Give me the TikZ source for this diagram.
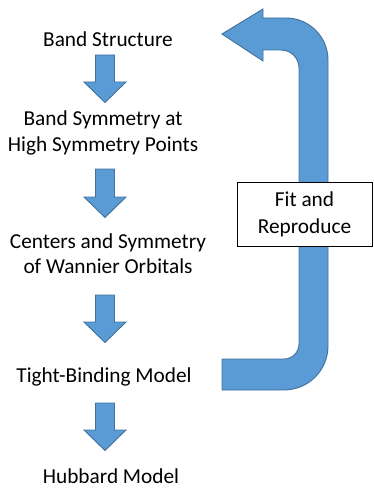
\documentclass[tikz,border=0pt]{standalone}
\usepackage{fontspec}
\setmainfont{Carlito}
\definecolor{blockfill}{HTML}{5B9BD5}
\definecolor{blockline}{HTML}{41719C}
\newcommand{\downblock}[3]{% x, top, shoulder ; tip = shoulder+20.5
  \filldraw[blockarrow] (#1-9.5,#2) -- (#1+9.5,#2) -- (#1+9.5,#3) -- (#1+21,#3)
    -- (#1,#3+20.5) -- (#1-21,#3) -- (#1-9.5,#3) -- cycle;}
\begin{document}
\begin{tikzpicture}[x=1pt,y=-1pt,
  blockarrow/.style={fill=blockfill,draw=blockline,line width=0.9pt,line join=miter},
  label/.style={font=\fontsize{21.3}{25}\selectfont,align=center,inner sep=0pt,anchor=base},
  fitbox/.style={draw=black,line width=1pt,fill=white,minimum width=135,minimum height=64,
    font=\fontsize{21.3}{27}\selectfont,align=center,inner sep=0pt}]
\useasboundingbox (0,0) rectangle (373,489);
% big return arrow
\filldraw[blockarrow] (222,34) -- (263,9) -- (263,18) -- (286,18)
  arc[start angle=-90,end angle=0,radius=42] -- (328,346)
  arc[start angle=0,end angle=90,radius=44] -- (222,390) -- (222,359) -- (284,359)
  arc[start angle=90,end angle=0,radius=15] -- (299,68)
  arc[start angle=0,end angle=-90,radius=18] -- (263,50) -- (263,61) -- cycle;
\node[fitbox] (fit) at (304.5,214) {Fit and\\Reproduce};
% labels (base anchor = baseline of last line)
\node[label] (bs) at (108,47) {Band Structure};
\node[label] (sym) at (103,151) {Band Symmetry at\\High Symmetry Points};
\node[label] (wan) at (108,273) {Centers and Symmetry\\of Wannier Orbitals};
\node[label] (tb) at (104,382) {Tight-Binding Model};
\node[label] (hub) at (111,483.5) {Hubbard Model};
% down arrows
\downblock{105}{55}{82}
\downblock{105}{169}{197}
\downblock{105}{295}{322}
\downblock{105}{403}{430}
\end{tikzpicture}
\end{document}
